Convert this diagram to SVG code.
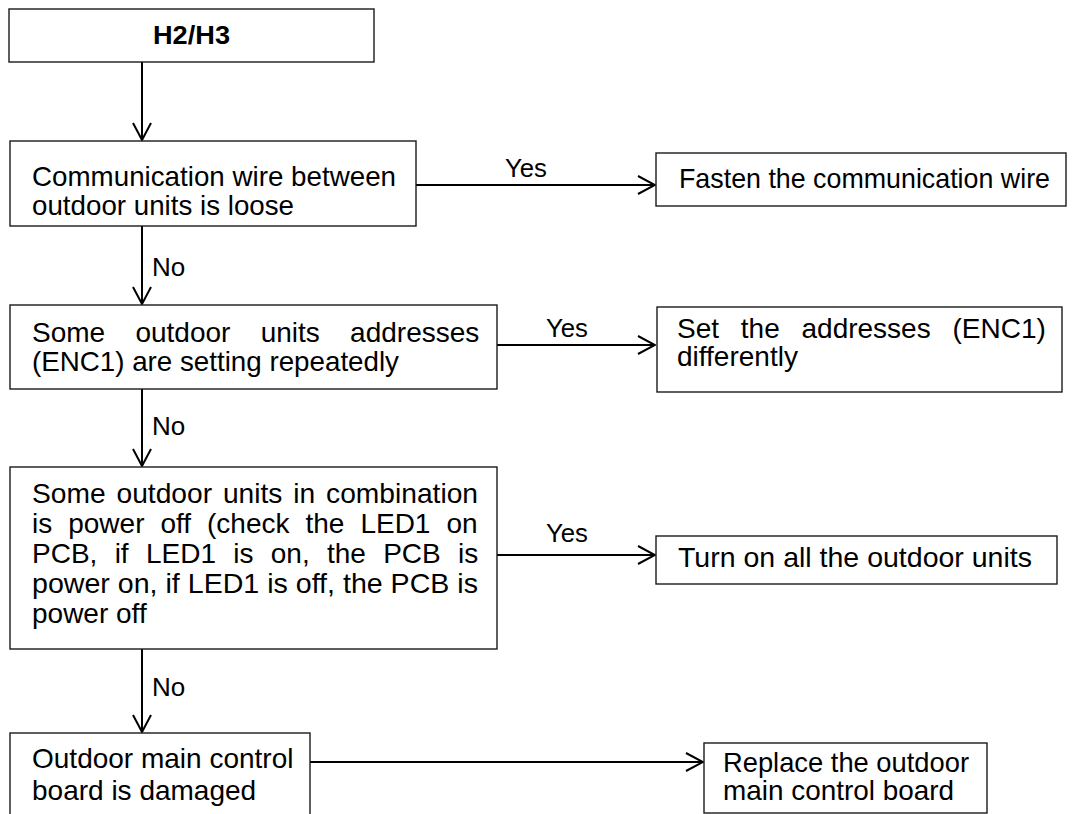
<svg xmlns="http://www.w3.org/2000/svg" width="1083" height="814" viewBox="0 0 1083 814">
<defs>
<style>
.box{fill:#fff;stroke:#1a1a1a;stroke-width:1.4}
.t{font-family:"Liberation Sans",Arial,sans-serif;font-size:28px;fill:#000}
.lbl{font-family:"Liberation Sans",Arial,sans-serif;font-size:26px;fill:#000}
.title{font-family:"Liberation Sans",Arial,sans-serif;font-size:25px;font-weight:bold;fill:#000}
.c{fill:none;stroke:#000;stroke-width:2}
</style>
<marker id="ah" viewBox="0 0 20 20" refX="19" refY="10" markerWidth="20" markerHeight="20" orient="auto" markerUnits="userSpaceOnUse">
<path d="M2,1 L19,10 L2,19" fill="none" stroke="#000" stroke-width="2"/>
</marker>
</defs>
<rect width="1083" height="814" fill="#fff"/>
<g id="connectors">
<line class="c" x1="142" y1="62" x2="142" y2="140" marker-end="url(#ah)"/>
<line class="c" x1="142" y1="226" x2="142" y2="304" marker-end="url(#ah)"/>
<line class="c" x1="142" y1="389" x2="142" y2="466" marker-end="url(#ah)"/>
<line class="c" x1="142" y1="649" x2="142" y2="732" marker-end="url(#ah)"/>
<line class="c" x1="416" y1="185" x2="655" y2="185" marker-end="url(#ah)"/>
<line class="c" x1="497" y1="345" x2="655" y2="345" marker-end="url(#ah)"/>
<line class="c" x1="497" y1="555" x2="655" y2="555" marker-end="url(#ah)"/>
<line class="c" x1="310" y1="762" x2="703" y2="762" marker-end="url(#ah)"/>
<text class="lbl" x="152" y="276">No</text>
<text class="lbl" x="152" y="435">No</text>
<text class="lbl" x="152" y="696">No</text>
<text class="lbl" x="505" y="177" textLength="42" lengthAdjust="spacingAndGlyphs">Yes</text>
<text class="lbl" x="546" y="337" textLength="42" lengthAdjust="spacingAndGlyphs">Yes</text>
<text class="lbl" x="546" y="542" textLength="42" lengthAdjust="spacingAndGlyphs">Yes</text>
</g>
<g id="start">
<rect class="box" x="9" y="9" width="365" height="53"/>
<text class="title" x="153" y="44" textLength="77" lengthAdjust="spacingAndGlyphs">H2/H3</text>
</g>
<g id="q1">
<rect class="box" x="10" y="141" width="406" height="85"/>
<text class="t" x="32" y="186" textLength="364" lengthAdjust="spacingAndGlyphs">Communication wire between</text>
<text class="t" x="32" y="215" textLength="262" lengthAdjust="spacingAndGlyphs">outdoor units is loose</text>
</g>
<g id="a1">
<rect class="box" x="656" y="153" width="410" height="53"/>
<text class="t" x="679" y="188" textLength="371" lengthAdjust="spacingAndGlyphs">Fasten the communication wire</text>
</g>
<g id="q2">
<rect class="box" x="10" y="305" width="487" height="84"/>
<text class="t" x="32" y="342" word-spacing="22.5">Some outdoor units addresses</text>
<text class="t" x="32" y="371" textLength="367" lengthAdjust="spacingAndGlyphs">(ENC1) are setting repeatedly</text>
</g>
<g id="a2">
<rect class="box" x="657" y="307" width="405" height="85"/>
<text class="t" x="677" y="338" word-spacing="14">Set the addresses (ENC1)</text>
<text class="t" x="677" y="366">differently</text>
</g>
<g id="q3">
<rect class="box" x="10" y="467" width="487" height="182"/>
<text class="t" x="32" y="503" textLength="446" lengthAdjust="spacingAndGlyphs" word-spacing="3">Some outdoor units in combination</text>
<text class="t" x="32" y="533" word-spacing="8.2">is power off (check the LED1 on</text>
<text class="t" x="32" y="563" word-spacing="9.5">PCB, if LED1 is on, the PCB is</text>
<text class="t" x="32" y="593" textLength="446" lengthAdjust="spacingAndGlyphs">power on, if LED1 is off, the PCB is</text>
<text class="t" x="32" y="623">power off</text>
</g>
<g id="a3">
<rect class="box" x="656" y="536" width="401" height="48"/>
<text class="t" x="678" y="567" textLength="354" lengthAdjust="spacingAndGlyphs">Turn on all the outdoor units</text>
</g>
<g id="q4">
<rect class="box" x="10" y="733" width="300" height="90"/>
<text class="t" x="32" y="768">Outdoor main control</text>
<text class="t" x="32" y="800">board is damaged</text>
</g>
<g id="a4">
<rect class="box" x="704" y="743" width="283" height="70"/>
<text class="t" x="723" y="772" textLength="246" lengthAdjust="spacingAndGlyphs">Replace the outdoor</text>
<text class="t" x="723" y="800" textLength="231" lengthAdjust="spacingAndGlyphs">main control board</text>
</g>
</svg>
